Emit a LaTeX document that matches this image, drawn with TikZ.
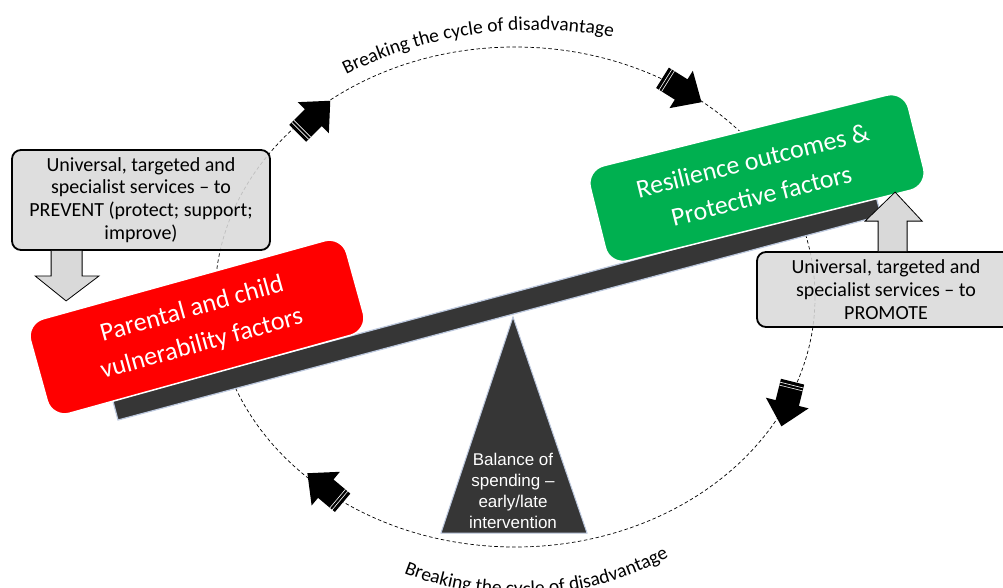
\documentclass[tikz,border=0pt]{standalone}
\usepackage{fontspec}
\setmainfont{Carlito}
\newfontfamily\arialfont{Liberation Sans}
\usepackage{tikz}
\usetikzlibrary{calc}
\usetikzlibrary{decorations.text}
\definecolor{boxgrey}{HTML}{D9D9D9}
\definecolor{beamgrey}{HTML}{363636}
\definecolor{edgeblue}{HTML}{BCC8DE}
\definecolor{pptgreen}{HTML}{00B050}
\newcommand\curvefont[0]{\fontsize{19.5}{19.5}\selectfont}
\newcommand\cyclearrow[0]{%
  \fill[black] (-23,-12) -- (-1,-12) -- (-1,-22) -- (23,0) -- (-1,22) -- (-1,12) -- (-23,12) -- cycle;
  \draw[white,line width=0.6pt] (-19.5,-12) -- (-19.5,12) (-16.5,-12) -- (-16.5,12);}

\tikzset{
  servicebox/.style={draw=black, line width=1.8pt, fill=boxgrey, fill opacity=0.88, text opacity=1,
    rounded corners=9pt, align=center, font=\fontsize{20}{22.7}\selectfont, minimum width=258pt},
  factorbox/.style={draw=white, line width=1.5pt, rounded corners=18pt, text=white, align=center,
    font=\fontsize{26}{36}\selectfont, minimum width=328pt, minimum height=98pt},
  hollowarrow/.style={draw=black, line width=0.8pt, fill=boxgrey}
}

\begin{document}
\begin{tikzpicture}[x=1pt,y=1pt]
\useasboundingbox (0,0) rectangle (1003,-587);

\coordinate (O) at (515,-297);
\draw[dash pattern=on 3.5pt off 2.5pt, line width=0.7pt] (O) ellipse [x radius=300pt, y radius=250pt];

% see-saw
\begin{scope}[shift={(118,-420)}, rotate=15]
\draw[fill=beamgrey, draw=edgeblue, line width=1.2pt] (0,0) rectangle (790,21);
\end{scope}
\coordinate (apex) at (513,-317);
\draw[fill=beamgrey, draw=edgeblue, line width=1pt] (apex) -- (587,-533) -- (441,-533) -- cycle;
\node[text=white, font=\arialfont\fontsize{17}{21}\selectfont, align=center] (balance) at (513,-491) {Balance of\\spending –\\early/late\\intervention};

\node[servicebox, minimum height=100pt] (prevent) at (141,-200) {Universal, targeted and\\specialist services – to\\PREVENT (protect; support;\\improve)};
\draw[hollowarrow] ($(prevent.south west)+(40,0)$) -- ++(0,-25) -- ++(-16,0) -- ++(31,-25) -- ++(33,25) -- ++(-17,0) -- ++(0,25);

\node[factorbox, fill=red, rotate=15.5] (vuln) at (197,-327) {Parental and child\\vulnerability factors};
\node[factorbox, fill=pptgreen, rotate=14] (resil) at (757,-178) {Resilience outcomes \&\\Protective factors};

\node[servicebox, minimum height=75pt] (promote) at (886,-289.5) {Universal, targeted and\\specialist services – to\\PROMOTE};
\draw[hollowarrow] ($(promote.north west)+(122,0)$) -- ++(0,30) -- ++(-13,0) -- ++(30,29) -- ++(27,-29) -- ++(-15,0) -- ++(0,-30);

% arrows round the cycle
\foreach \x/\y/\ang in {314/-117/45, 682/-90/-32, 787/-404/-104, 325/-488/140} {
  \begin{scope}[shift={(\x,\y)}, rotate=\ang]
  \cyclearrow
  \end{scope}
}

\path[decorate, decoration={text along path, text align=center, text={|\curvefont|Breaking the cycle of disadvantage}}]
  (536,-458) ++(119:428pt) arc[start angle=119, end angle=77, radius=428pt];
\path[decorate, decoration={text along path, text align=center, text={|\curvefont|Breaking the cycle of disadvantage}}]
  (519,-282) ++(-117:313pt) arc[start angle=-117, end angle=-56, radius=313pt];

\end{tikzpicture}
\end{document}
